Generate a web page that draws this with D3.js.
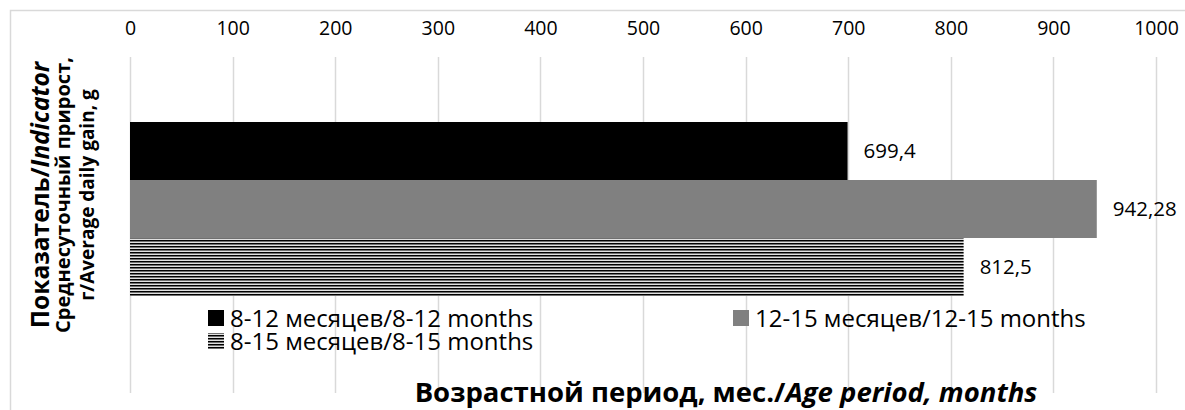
<!DOCTYPE html>
<html><head><meta charset="utf-8">
<script src="https://cdn.jsdelivr.net/npm/d3@7"></script>
<style>
html,body{margin:0;padding:0;background:#fff;}
svg{display:block;font-family:"Open Sans",sans-serif;}
</style></head>
<body>
<svg id="chart" width="1185" height="410"></svg>
<script>
const series = ["8-12 месяцев/8-12 months", "12-15 месяцев/12-15 months", "8-15 месяцев/8-15 months"];
const values = [699.4, 942.28, 812.5];
const valueLabels = ["699,4", "942,28", "812,5"];
const ticks = [0, 100, 200, 300, 400, 500, 600, 700, 800, 900, 1000];
const fills = ["#000000", "#808080", "url(#stripes)"];

const svg = d3.select("#chart");
svg.append("rect").attr("width", 1185).attr("height", 410).attr("fill", "#fff");

const defs = svg.append("defs");
const pat = defs.append("pattern").attr("id", "stripes").attr("patternUnits", "userSpaceOnUse")
  .attr("width", 8).attr("height", 3);
pat.append("rect").attr("width", 8).attr("height", 3).attr("fill", "#e0e0e0");
pat.append("rect").attr("y", 0).attr("width", 8).attr("height", 1).attr("fill", "#000");
pat.append("rect").attr("y", 1).attr("width", 8).attr("height", 1).attr("fill", "#707070");

// outer border
svg.append("rect").attr("x", 10.5).attr("y", 10.5).attr("width", 1200).attr("height", 500)
  .attr("fill", "none").attr("stroke", "#d9d9d9").attr("stroke-width", 1.5);

const x = d3.scaleLinear().domain([0, 1000]).range([130, 1156]);
const y = d3.scaleBand().domain(series).range([122, 296]).padding(0);

// gridlines
svg.append("g").selectAll("line").data(ticks).join("line")
  .attr("x1", d => Math.round(x(d)) + 0.5).attr("x2", d => Math.round(x(d)) + 0.5)
  .attr("y1", 57).attr("y2", 393).attr("stroke", "#d9d9d9").attr("stroke-width", 1.5);

// top axis
const ax = svg.append("g").attr("transform", "translate(0,35)")
  .call(d3.axisTop(x).tickValues(ticks).tickSize(0).tickPadding(0).tickFormat(d3.format("d")));
ax.select(".domain").remove();
ax.selectAll("text").attr("font-family", "Open Sans").attr("font-size", 19.5).attr("fill", "#000");

// bars
svg.append("g").selectAll("rect").data(series).join("rect")
  .attr("x", x(0)).attr("y", d => y(d)).attr("width", (d, i) => x(values[i]) - x(0))
  .attr("height", y.bandwidth()).attr("fill", (d, i) => fills[i]);

// value labels
svg.append("g").selectAll("text").data(series).join("text")
  .attr("x", (d, i) => x(values[i]) + 16).attr("y", d => y(d) + y.bandwidth() / 2)
  .attr("dy", "0.35em").attr("font-size", 20.5).attr("fill", "#000")
  .text((d, i) => valueLabels[i]);

// legend
const legPos = [[208, 318], [733, 318], [208, 341]];
const leg = svg.append("g").selectAll("g").data(series).join("g")
  .attr("transform", (d, i) => `translate(${legPos[i][0]},${legPos[i][1]})`);
leg.append("rect").attr("x", 0).attr("y", -8).attr("width", 16).attr("height", 16)
  .attr("fill", (d, i) => fills[i]);
leg.append("text").attr("x", 22).attr("dy", "0.36em").attr("font-size", 24).attr("fill", "#000").text(d => d);

// x axis title
const xt = svg.append("text").attr("x", 726).attr("y", 392).attr("dy", "0.35em")
  .attr("text-anchor", "middle").attr("font-size", 27.5).attr("font-weight", "bold").attr("fill", "#000");
xt.append("tspan").text("Возрастной период, мес./");
xt.append("tspan").attr("font-style", "italic").text("Age period, months");

// y axis title
const yt = svg.append("g").attr("transform", "translate(0,195) rotate(-90)");
const l1 = yt.append("text").attr("x", 0).attr("y", 40).attr("dy", "0.35em").attr("text-anchor", "middle")
  .attr("font-size", 24.5).attr("font-weight", "bold").attr("fill", "#000");
l1.append("tspan").text("Показатель/");
l1.append("tspan").attr("font-style", "italic").text("Indicator");
yt.append("text").attr("x", 0).attr("y", 63).attr("dy", "0.35em").attr("text-anchor", "middle")
  .attr("font-size", 20).attr("font-weight", "bold").attr("fill", "#000").text("Среднесуточный прирост,");
yt.append("text").attr("x", 0).attr("y", 87).attr("dy", "0.35em").attr("text-anchor", "middle")
  .attr("font-size", 19).attr("font-weight", "bold").attr("fill", "#000").text("г/Average daily gain, g");
</script>
</body></html>
